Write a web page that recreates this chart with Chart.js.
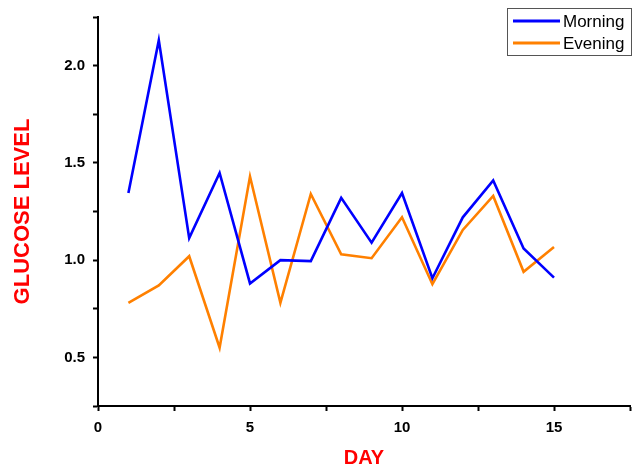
<!DOCTYPE html>
<html>
<head>
<meta charset="utf-8">
<script src="https://cdn.jsdelivr.net/npm/chart.js@4"></script>
<style>
  html, body { margin: 0; padding: 0; background: #fff; }
  #wrap { width: 634px; height: 468px; }
</style>
</head>
<body>
<div id="wrap"><canvas id="chart" width="634" height="468"></canvas></div>
<script>
// Data
const days = [1, 2, 3, 4, 5, 6, 7, 8, 9, 10, 11, 12, 13, 14, 15];
const morning = [1.345, 2.13, 1.113, 1.448, 0.88, 1.0, 0.995, 1.32, 1.09, 1.345, 0.907, 1.22, 1.41, 1.06, 0.91];
const evening = [0.78, 0.87, 1.02, 0.55, 1.43, 0.78, 1.34, 1.03, 1.01, 1.22, 0.876, 1.155, 1.33, 0.94, 1.067];
const xTickLabels = [0, 5, 10, 15];
const yTickLabels = [0.5, 1.0, 1.5, 2.0];

const tickFont = { family: "'Liberation Sans', Arial, sans-serif", size: 15, weight: "bold" };

// Boxed legend drawn inside the top-right corner, like the original
const boxLegend = {
  id: "boxLegend",
  afterDraw(chart) {
    const ctx = chart.ctx;
    const x = 507, y = 8, w = 125, h = 48;
    ctx.save();
    ctx.fillStyle = "#fff";
    ctx.fillRect(x, y, w, h);
    ctx.strokeStyle = "#555";
    ctx.lineWidth = 1;
    ctx.strokeRect(x + 0.5, y + 0.5, w - 1, h - 1);
    ctx.font = "17px 'Liberation Sans', Arial, sans-serif";
    ctx.textBaseline = "alphabetic";
    chart.data.datasets.forEach((ds, i) => {
      const ly = y + 13 + i * 22;
      ctx.strokeStyle = ds.borderColor;
      ctx.lineWidth = 3;
      ctx.beginPath();
      ctx.moveTo(x + 6, ly);
      ctx.lineTo(x + 53, ly);
      ctx.stroke();
      ctx.fillStyle = "#000";
      ctx.fillText(ds.label, x + 56, ly + 6);
    });
    ctx.restore();
  },
};

const ctx = document.getElementById("chart").getContext("2d");
new Chart(ctx, {
  type: "line",
  data: {
    datasets: [
      {
        label: "Morning",
        data: days.map((d, i) => ({ x: d, y: morning[i] })),
        borderColor: "#0000ff",
        borderWidth: 2.6,
        pointRadius: 0,
        tension: 0,
      },
      {
        label: "Evening",
        data: days.map((d, i) => ({ x: d, y: evening[i] })),
        borderColor: "#ff8000",
        borderWidth: 2.6,
        pointRadius: 0,
        tension: 0,
      },
    ],
  },
  options: {
    responsive: false,
    animation: false,
    layout: { padding: { top: 17, right: 4, left: 0, bottom: 0 } },
    plugins: { legend: { display: false }, tooltip: { enabled: false } },
    scales: {
      x: {
        type: "linear",
        min: 0,
        max: 17.5,
        afterFit: (s) => {
          s.height = 62;
          s.paddingLeft = 0;
          s.paddingRight = 0;
        },
        border: { color: "#000", width: 2 },
        grid: { drawOnChartArea: false, drawTicks: true, tickLength: 5, tickColor: "#000", tickWidth: 2 },
        ticks: {
          stepSize: 2.5,
          autoSkip: false,
          maxRotation: 0,
          padding: 8,
          color: "#000",
          font: tickFont,
          callback: (v) => (xTickLabels.includes(v) ? String(v) : ""),
        },
        title: {
          display: true,
          text: "DAY",
          color: "#ff0000",
          font: { family: "'Liberation Sans', Arial, sans-serif", size: 20, weight: "bold" },
          padding: { top: 0, bottom: -2 },
        },
      },
      y: {
        min: 0.25,
        max: 2.25,
        afterFit: (s) => {
          s.width = 98;
          s.paddingTop = 0;
          s.paddingBottom = 0;
        },
        border: { color: "#000", width: 2 },
        grid: { drawOnChartArea: false, drawTicks: true, tickLength: 5, tickColor: "#000", tickWidth: 2 },
        ticks: {
          stepSize: 0.25,
          autoSkip: false,
          padding: 8,
          color: "#000",
          font: tickFont,
          callback: (v) => (yTickLabels.includes(v) ? v.toFixed(1) : ""),
        },
        title: {
          display: true,
          text: "GLUCOSE LEVEL",
          color: "#ff0000",
          font: { family: "'Liberation Sans', Arial, sans-serif", size: 22, weight: "bold" },
          padding: { top: 10, bottom: 0 },
        },
      },
    },
  },
  plugins: [boxLegend],
});
</script>
</body>
</html>
